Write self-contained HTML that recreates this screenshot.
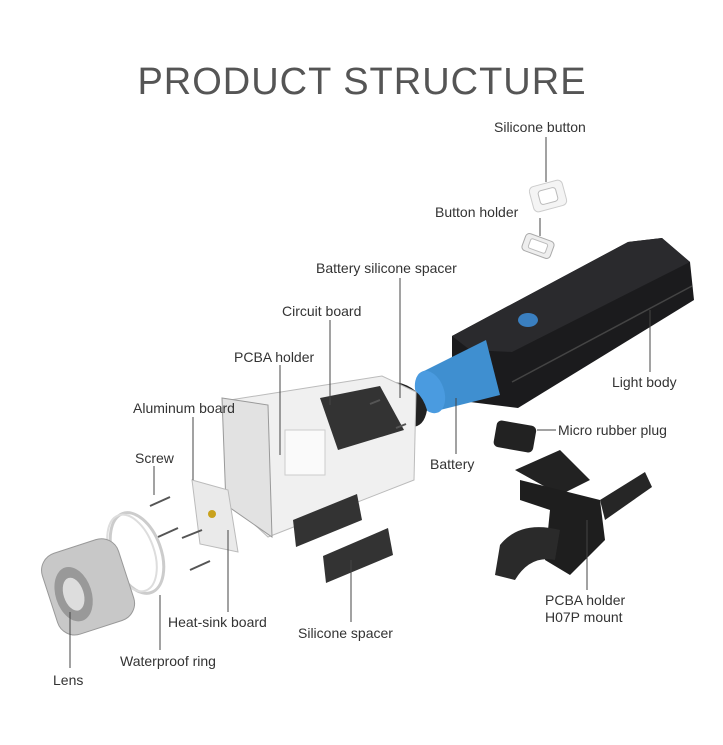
<!DOCTYPE html>
<html><head><meta charset="utf-8"><style>
html,body{margin:0;padding:0;background:#fff;}
svg{display:block}
text{font-family:"Liberation Sans",sans-serif;fill:#333;font-size:14px}
</style></head><body>
<svg width="723" height="745" viewBox="0 0 723 745">
<text x="362" y="94" text-anchor="middle" style="font-size:38px;fill:#555;letter-spacing:1px">PRODUCT STRUCTURE</text>

<!-- silicone button -->
<g transform="translate(548,196) rotate(-15)">
<rect x="-17" y="-13" width="34" height="26" rx="5" fill="#f4f4f4" stroke="#ccc"/>
<rect x="-9" y="-7" width="18" height="14" rx="3" fill="#fff" stroke="#bbb"/>
</g>
<g transform="translate(538,246) rotate(20)">
<rect x="-15" y="-9" width="30" height="18" rx="4" fill="#eee" stroke="#aaa"/>
<rect x="-9" y="-5" width="18" height="10" rx="2" fill="#fff" stroke="#bbb"/>
</g>

<!-- light body -->
<polygon points="452,336 628,242 662,238 690,262 694,300 518,408 470,402 452,360" fill="#1b1b1d"/>
<polygon points="452,336 628,242 662,238 690,262 512,352 470,350" fill="#2a2a2d"/>
<line x1="512" y1="382" x2="692" y2="286" stroke="#444" stroke-width="1.5"/>
<ellipse cx="528" cy="320" rx="10" ry="7" fill="#3a7fc0"/>
<!-- battery -->
<polygon points="422,372 486,340 500,395 440,410" fill="#3f8fd0"/>
<ellipse cx="430" cy="392" rx="14" ry="22" transform="rotate(-20 430 392)" fill="#4a9be0"/>
<!-- battery silicone spacer -->
<path d="M395,382 Q420,386 427,410 Q424,428 410,427 L390,400 Q386,388 395,382Z" fill="#222"/>

<!-- PCBA holder -->
<polygon points="230,400 382,376 416,392 414,480 268,537 228,500" fill="#f0f0f0" stroke="#bbb"/>
<polygon points="222,398 268,405 272,537 226,505" fill="#e2e2e2" stroke="#999"/>
<polygon points="320,398 380,386 404,430 338,450" fill="#333"/>
<rect x="285" y="430" width="40" height="45" fill="#fafafa" stroke="#ccc"/>
<line x1="370" y1="404" x2="380" y2="400" stroke="#555" stroke-width="2"/>
<line x1="396" y1="428" x2="406" y2="424" stroke="#555" stroke-width="2"/>

<!-- spacers -->
<polygon points="293,520 357,494 362,520 296,547" fill="#333"/>
<polygon points="323,556 388,528 393,555 326,583" fill="#333"/>

<!-- aluminum board -->
<polygon points="192,480 228,490 238,552 200,544" fill="#eaeaea" stroke="#bbb"/>
<circle cx="212" cy="514" r="4" fill="#c9a21e"/>

<!-- screws -->
<g stroke="#555" stroke-width="2">
<line x1="150" y1="506" x2="170" y2="497"/>
<line x1="158" y1="537" x2="178" y2="528"/>
<line x1="182" y1="538" x2="202" y2="530"/>
<line x1="190" y1="570" x2="210" y2="561"/>
</g>

<!-- waterproof ring -->
<ellipse cx="137" cy="553" rx="24" ry="42" transform="rotate(-20 137 553)" fill="none" stroke="#ccc" stroke-width="3"/>
<ellipse cx="132" cy="553" rx="22" ry="40" transform="rotate(-20 132 553)" fill="none" stroke="#ddd" stroke-width="2"/>

<!-- lens -->
<g transform="rotate(-18 86 587)">
<rect x="48" y="545" width="80" height="85" rx="18" fill="#c8c8c8" stroke="#999"/>
<ellipse cx="72" cy="590" rx="18" ry="28" fill="#999"/>
<ellipse cx="72" cy="590" rx="10" ry="17" fill="#ddd"/>
</g>

<!-- micro rubber plug -->
<rect x="495" y="423" width="40" height="27" rx="5" fill="#222" transform="rotate(10 515 436)"/>
<!-- mount -->
<path d="M515,470 L560,450 L590,480 L560,495Z" fill="#222"/>
<path d="M520,480 L600,500 L605,540 L570,575 L545,560 L550,510 L520,500Z" fill="#1e1e1e"/>
<path d="M500,545 Q520,520 560,530 L555,560 Q530,555 515,580 L495,575Z" fill="#2a2a2a"/>
<path d="M600,500 L645,472 L652,487 L605,520Z" fill="#262626"/>

<!-- leader lines -->
<g stroke="#444" stroke-width="1" fill="none">
<line x1="546" y1="137" x2="546" y2="182"/>
<line x1="540" y1="218" x2="540" y2="236"/>
<line x1="400" y1="278" x2="400" y2="398"/>
<line x1="330" y1="320" x2="330" y2="405"/>
<line x1="280" y1="365" x2="280" y2="455"/>
<line x1="193" y1="417" x2="193" y2="480"/>
<line x1="154" y1="466" x2="154" y2="495"/>
<line x1="650" y1="310" x2="650" y2="372"/>
<line x1="537" y1="430" x2="556" y2="430"/>
<line x1="456" y1="398" x2="456" y2="454"/>
<line x1="587" y1="520" x2="587" y2="590"/>
<line x1="228" y1="530" x2="228" y2="612"/>
<line x1="351" y1="560" x2="351" y2="622"/>
<line x1="160" y1="595" x2="160" y2="650"/>
<line x1="70" y1="612" x2="70" y2="668"/>
</g>

<text x="494" y="132">Silicone button</text>
<text x="435" y="217">Button holder</text>
<text x="316" y="273">Battery silicone spacer</text>
<text x="282" y="316">Circuit board</text>
<text x="234" y="362">PCBA holder</text>
<text x="133" y="413">Aluminum board</text>
<text x="135" y="463">Screw</text>
<text x="612" y="387">Light body</text>
<text x="558" y="435">Micro rubber plug</text>
<text x="430" y="469">Battery</text>
<text x="545" y="605">PCBA holder</text>
<text x="545" y="622">H07P mount</text>
<text x="168" y="627">Heat-sink board</text>
<text x="298" y="638">Silicone spacer</text>
<text x="120" y="666">Waterproof ring</text>
<text x="53" y="685">Lens</text>
</svg>
</body></html>
